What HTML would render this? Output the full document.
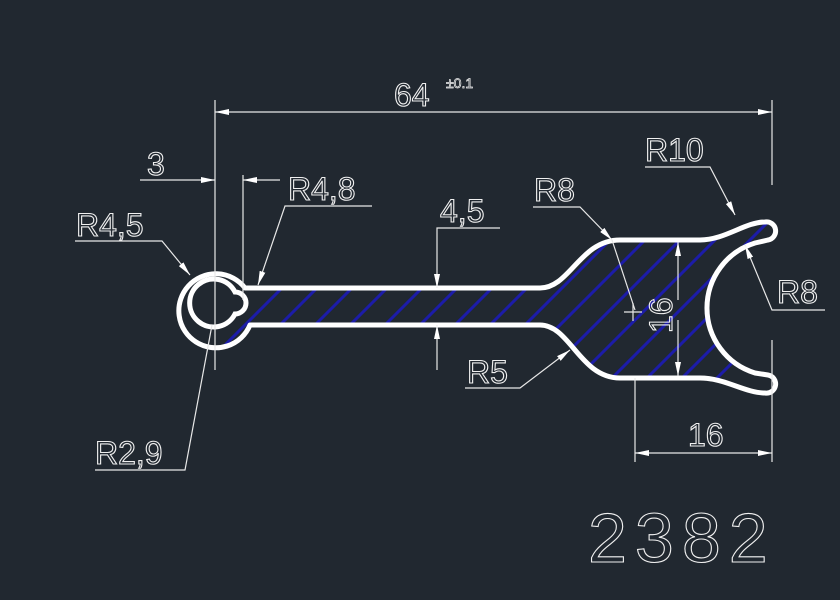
<!DOCTYPE html>
<html><head><meta charset="utf-8"><style>html,body{margin:0;padding:0;background:#212830;}svg{display:block}</style></head>
<body>
<svg width="840" height="600" viewBox="0 0 840 600" xmlns="http://www.w3.org/2000/svg">
<rect width="840" height="600" fill="#212830"/>
<defs>
<clipPath id="cp"><path d="M245,288 L540,288 C570,288 580,240 620,240 L700,240 C725,240 745,222 765,222 A9 9 0 0 1 768,240 L755,243 A68 68 0 0 0 755,373 L768,375 A9 9 0 0 1 765,393 C745,393 725,378 700,378 L620,378 C580,378 570,325 540,325 L250,325 A37 37 0 1 1 245,288 Z"/></clipPath>
<marker id="a" markerWidth="14" markerHeight="6" refX="14" refY="3" orient="auto" markerUnits="userSpaceOnUse"><path d="M0,0 L14,3 L0,6 Z" fill="#fff"/></marker>
</defs>
<g clip-path="url(#cp)" stroke="#1c1ca8" stroke-width="3">
<line x1="150" y1="420" x2="400" y2="170"/><line x1="185" y1="420" x2="435" y2="170"/><line x1="220" y1="420" x2="470" y2="170"/><line x1="255" y1="420" x2="505" y2="170"/><line x1="290" y1="420" x2="540" y2="170"/><line x1="325" y1="420" x2="575" y2="170"/><line x1="360" y1="420" x2="610" y2="170"/><line x1="395" y1="420" x2="645" y2="170"/><line x1="430" y1="420" x2="680" y2="170"/><line x1="465" y1="420" x2="715" y2="170"/><line x1="500" y1="420" x2="750" y2="170"/><line x1="535" y1="420" x2="785" y2="170"/><line x1="570" y1="420" x2="820" y2="170"/><line x1="605" y1="420" x2="855" y2="170"/><line x1="640" y1="420" x2="890" y2="170"/><line x1="675" y1="420" x2="925" y2="170"/>
</g>
<circle cx="213" cy="303" r="24" fill="#212830"/>
<path d="M245,288 L540,288 C570,288 580,240 620,240 L700,240 C725,240 745,222 765,222 A9 9 0 0 1 768,240 L755,243 A68 68 0 0 0 755,373 L768,375 A9 9 0 0 1 765,393 C745,393 725,378 700,378 L620,378 C580,378 570,325 540,325 L250,325 A37 37 0 1 1 245,288 Z" fill="none" stroke="#fff" stroke-width="5" stroke-linejoin="round"/>
<path d="M235,292 A24 24 0 1 0 235,314 A11 11 0 0 0 235,292 Z" fill="none" stroke="#fff" stroke-width="5"/>
<g stroke="#e8e8e8" stroke-width="1.2" fill="none">
<line x1="215" y1="100" x2="215" y2="370"/>
<line x1="772" y1="100" x2="772" y2="185"/>
<line x1="500" y1="112" x2="215" y2="112" marker-end="url(#a)"/>
<line x1="500" y1="112" x2="772" y2="112" marker-end="url(#a)"/>
<line x1="243" y1="175" x2="243" y2="300"/>
<line x1="140" y1="180" x2="215" y2="180" marker-end="url(#a)"/>
<line x1="280" y1="180" x2="243" y2="180" marker-end="url(#a)"/>
<polyline points="372,206 285,206 258,285" marker-end="url(#a)"/>
<polyline points="75,241 162,241 190,275" marker-end="url(#a)"/>
<polyline points="500,228 437,228 437,288" marker-end="url(#a)"/>
<line x1="437" y1="370" x2="437" y2="325" marker-end="url(#a)"/>
<polyline points="533,207 580,207 612,240" marker-end="url(#a)"/>
<line x1="612" y1="240" x2="635" y2="310"/>
<line x1="624" y1="312" x2="642" y2="312"/><line x1="633" y1="303" x2="633" y2="321"/>
<polyline points="645,167 710,167 735,215" marker-end="url(#a)"/>
<polyline points="825,310 772,310 745,245" marker-end="url(#a)"/>
<line x1="678" y1="300" x2="678" y2="242" marker-end="url(#a)"/>
<line x1="678" y1="320" x2="678" y2="376" marker-end="url(#a)"/>
<line x1="635" y1="378" x2="635" y2="462"/>
<line x1="772" y1="340" x2="772" y2="462"/>
<line x1="700" y1="453" x2="635" y2="453" marker-end="url(#a)"/>
<line x1="700" y1="453" x2="772" y2="453" marker-end="url(#a)"/>
<polyline points="465,388 520,388 570,350" marker-end="url(#a)"/>
<polyline points="95,470 185,470 212,325"/>
</g>
<g fill="none" stroke="#f0f0f0" stroke-width="1.1" font-family="Liberation Sans, sans-serif">
<text x="394" y="106" font-size="32">64</text>
<text x="446" y="88" font-size="14" stroke-width="0.7">±0.1</text>
<text x="147" y="175" font-size="32">3</text>
<text x="288" y="200" font-size="32">R4,8</text>
<text x="76" y="236" font-size="32">R4,5</text>
<text x="440" y="222" font-size="32">4,5</text>
<text x="534" y="201" font-size="32">R8</text>
<text x="645" y="161" font-size="32">R10</text>
<text x="777" y="303" font-size="32">R8</text>
<text x="0" y="0" font-size="32" transform="translate(672,333) rotate(-90)">16</text>
<text x="688" y="446" font-size="32">16</text>
<text x="467" y="383" font-size="32">R5</text>
<text x="95" y="464" font-size="32">R2,9</text>
<text x="588" y="562" font-size="70" letter-spacing="8">2382</text>
</g>
</svg>
</body></html>
